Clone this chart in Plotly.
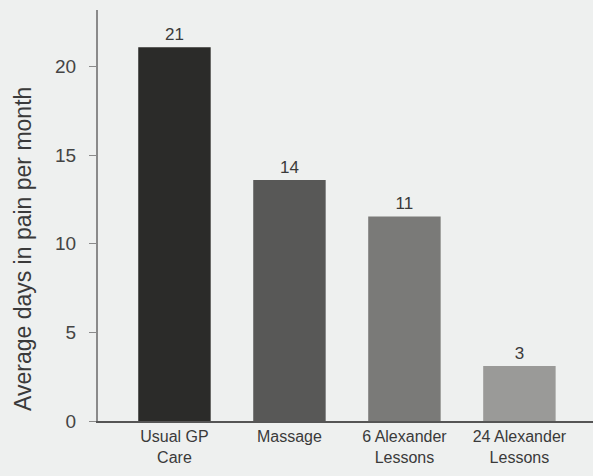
import plotly.graph_objects as go

categories = ["Usual GP<br>Care", "Massage", "6 Alexander<br>Lessons", "24 Alexander<br>Lessons"]
values = [21.1, 13.6, 11.55, 3.1]
value_labels = ["21", "14", "11", "3"]
bar_colors = ["#2b2b29", "#585857", "#7a7a78", "#9a9a98"]
y_ticks = [0, 5, 10, 15, 20]
y_title = "Average days in pain per month"

FONT = "Liberation Sans, Arial, sans-serif"

fig = go.Figure(go.Bar(
    x=list(range(len(categories))),
    y=values,
    text=value_labels,
    textposition="outside",
    textfont=dict(family=FONT, size=17, color="#3a3a3a"),
    marker=dict(color=bar_colors, line=dict(width=0)),
    width=0.63,
    cliponaxis=False,
))

fig.update_layout(
    width=593, height=476,
    margin=dict(l=98, r=0, t=10, b=55),
    paper_bgcolor="#eef0ef",
    plot_bgcolor="#eef0ef",
    showlegend=False,
    font=dict(family=FONT, color="#3a3a3a"),
)
fig.add_annotation(
    text=y_title, textangle=-90,
    xref="paper", yref="paper",
    x=(23 - 98) / 495, y=(421 - 249) / 411,
    xanchor="center", yanchor="middle", showarrow=False,
    font=dict(family=FONT, size=23, color="#3a3a3a"),
)
fig.update_xaxes(
    range=[-0.665, 3.64],
    tickmode="array",
    tickvals=list(range(len(categories))),
    ticktext=categories,
    tickfont=dict(family=FONT, size=16, color="#3a3a3a"),
    showline=True, linecolor="#555555", linewidth=2,
    ticks="", showgrid=False, zeroline=False,
)
fig.update_yaxes(
    range=[0, 23.2],
    tickmode="array",
    tickvals=y_ticks,
    tickfont=dict(family=FONT, size=19, color="#444444"),
    ticks="outside", ticklen=7, tickcolor="#8a8a8a", tickwidth=1,
    ticklabelstandoff=9,
    showline=True, linecolor="#8a8a8a", linewidth=2,
    showgrid=False, zeroline=False,
)

fig.write_html("out.html")
